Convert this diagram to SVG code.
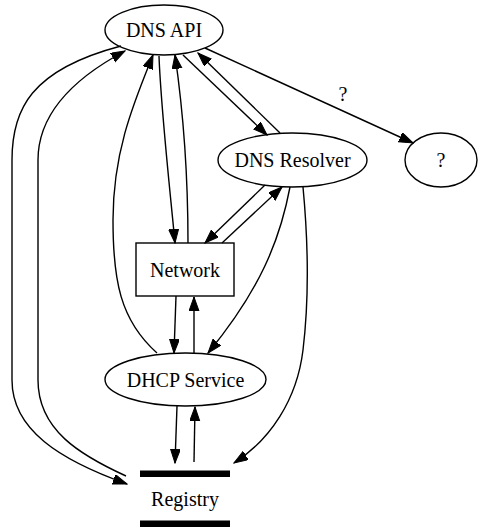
<svg xmlns="http://www.w3.org/2000/svg" width="479" height="531" viewBox="0 0 479 531">
<style>
.n{fill:none;stroke:#000;stroke-width:1.4}
.t{font-family:"Liberation Serif","Times New Roman",serif;font-size:20px;fill:#000;text-anchor:middle}
.e{fill:none;stroke:#000;stroke-width:1.4;marker-end:url(#ah)}
.bar{fill:#000}
</style>
<defs>
<marker id="ah" markerUnits="userSpaceOnUse" markerWidth="15" markerHeight="11" refX="14" refY="5" orient="auto">
<path d="M0,0 L14,5 L0,10 Z" fill="#000" stroke="#000" stroke-width="1"/>
</marker>
</defs>
<rect width="479" height="531" fill="#fff"/>
<g id="edges">
<path class="e" d="M121,46 C30,70 12,110 12,160 L12,380 C12,430 60,460 127,484"/>
<path class="e" d="M126,476 C80,455 38,430 38,380 L38,160 C38,110 80,75 125,51"/>
<path class="e" d="M157,353 C120,320 113,280 113,220 C113,150 135,100 153,55"/>
<path class="e" d="M159,56 C161,110 170,190 175,243"/>
<path class="e" d="M188,243 C188,170 183,110 175,55"/>
<path class="e" d="M183,55 L267,135"/>
<path class="e" d="M280,133 L198,53"/>
<path class="e" d="M205,48 L413,143"/>
<path class="e" d="M265,185 L205,243"/>
<path class="e" d="M222,243 L282,187"/>
<path class="e" d="M290,187 C280,240 260,290 208,353"/>
<path class="e" d="M303,187 C308,240 309,300 303,350 C297,400 270,440 234,463"/>
<path class="e" d="M176,296 L174,353"/>
<path class="e" d="M194,353 L194,297"/>
<path class="e" d="M177,406 L175,463"/>
<path class="e" d="M194,462 L195,407"/>
<text class="t" x="343" y="101">?</text>
</g>
<g id="dns_api">
<ellipse class="n" cx="164" cy="30" rx="59" ry="25"/>
<text class="t" x="164" y="37">DNS API</text>
</g>
<g id="dns_resolver">
<ellipse class="n" cx="292.5" cy="160" rx="74.5" ry="27"/>
<text class="t" x="292.5" y="167">DNS Resolver</text>
</g>
<g id="unknown">
<ellipse class="n" cx="441" cy="160" rx="36" ry="27"/>
<text class="t" x="441" y="167">?</text>
</g>
<g id="network">
<rect class="n" x="136" y="243" width="98" height="53"/>
<text class="t" x="185" y="277">Network</text>
</g>
<g id="dhcp">
<ellipse class="n" cx="185.5" cy="379.5" rx="80.5" ry="26.5"/>
<text class="t" x="185.5" y="387">DHCP Service</text>
</g>
<g id="registry">
<rect class="bar" x="140" y="470.5" width="90" height="6.5"/>
<rect class="bar" x="140" y="520.5" width="90" height="6.5"/>
<text class="t" x="185" y="506">Registry</text>
</g>
</svg>
